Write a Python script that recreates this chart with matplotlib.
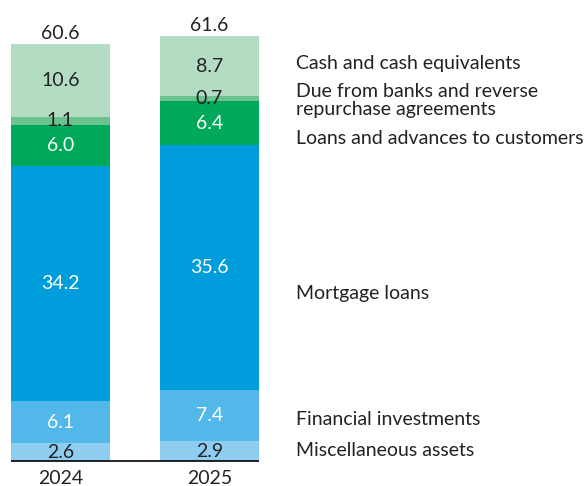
import matplotlib
matplotlib.use("Agg")
import matplotlib.pyplot as plt

years = ["2024", "2025"]
totals = ["60.6", "61.6"]

# stack order, bottom to top
categories = [
    "Miscellaneous assets",
    "Financial investments",
    "Mortgage loans",
    "Loans and advances to customers",
    "Due from banks and reverse\nrepurchase agreements",
    "Cash and cash equivalents",
]
values_2024 = [2.6, 6.1, 34.2, 6.0, 1.1, 10.6]
values_2025 = [2.9, 7.4, 35.6, 6.4, 0.7, 8.7]

colors = ["#8fcdf0", "#52b8e9", "#009ddd", "#00a85a", "#6ac28f", "#b3ddc3"]
text_colors = ["#222222", "white", "white", "white", "#222222", "#222222"]
# where the category names sit on the right (data units)
label_y = [1.6, 6.0, 24.4, 46.8, 52.4, 57.7]

plt.rcParams['font.family'] = ['Lato', 'DejaVu Sans']
fig = plt.figure(figsize=(5.87, 4.86), dpi=100)
ax = fig.add_axes([0, 0, 1, 1])
ax.set_xlim(-0.406, 3.534)
ax.set_ylim(-3.63, 67.0)
ax.axis("off")

fs = 14
width = 0.664
for i, vals in enumerate([values_2024, values_2025]):
    bottom = 0
    for v, c, tc in zip(vals, colors, text_colors):
        ax.bar(i, v, width, bottom=bottom, color=c, linewidth=0)
        ax.text(i, bottom + v / 2, f"{v:.1f}", ha="center", va="center",
                color=tc, fontsize=fs)
        bottom += v
    ax.text(i, bottom + 0.3, totals[i], ha="center", va="bottom",
            color="#222222", fontsize=fs)
    ax.text(i, -1.3, years[i], ha="center", va="top",
            color="#222222", fontsize=fs)

ax.hlines(0, -0.335, 1.335, color="black", linewidth=1.2)

for name, y in zip(categories, label_y):
    ax.text(1.58, y, name, ha="left", va="center", color="#222222",
            fontsize=fs, linespacing=1.1)

fig.savefig("out.png", dpi=100)
